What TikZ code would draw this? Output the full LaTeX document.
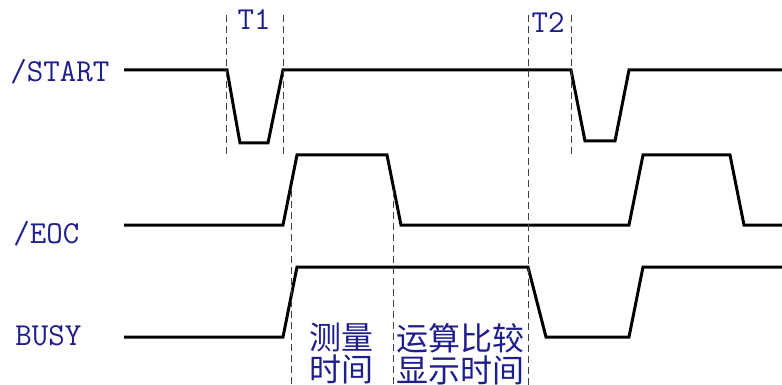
\documentclass[tikz,border=0pt]{standalone}
\usepackage{fontspec}
\usepackage{xcolor}
\newfontfamily\cjk{Noto Sans CJK SC}
\definecolor{labelblue}{RGB}{30,30,140}
\usetikzlibrary{positioning}

\begin{document}
\begin{tikzpicture}[x=0.5pt,y=-0.5pt,
    signal/.style={line width=1.5pt},
    guide/.style={black!75,line width=0.5pt,dash pattern=on 3.5pt off 2pt},
    sig/.style={text=labelblue,font=\fontsize{16}{18}\selectfont\ttfamily,inner sep=0pt,anchor=west},
    note/.style={text=labelblue,font=\fontsize{16}{16}\selectfont\cjk,inner sep=0pt,anchor=north west,align=left}]
    \useasboundingbox (0,0) rectangle (782,385);
    % Labels
    \node[sig] (start) at (10,72) {/START};
    \node[sig] (eoc) at (13,234) {/EOC};
    \node[sig] (busy) at (15,336) {BUSY};
    \node[sig,anchor=center] (tone) at (254,20) {T1};
    \node[sig,anchor=center] (ttwo) at (548,23) {T2};
    \node[note] (meas) at (309,323) {测量\\时间};
    \node[note] (calc) at (396,323) {运算比较\\显示时间};

    % Waveforms
    \draw[signal] (124,70) -- (227,70) -- (240,143) -- (268,143) -- (283,70) -- (571,70)
        -- (585,141) -- (615,141) -- (629,70) -- (782,70);
    \draw[signal] (124,225) -- (283,225) -- (297,155) -- (387,155) -- (401,225) -- (629,225)
        -- (643,155) -- (730,155) -- (744,225) -- (782,225);
    \draw[signal] (124,337) -- (283,337) -- (297,267) -- (528,267) -- (546,337) -- (629,337)
        -- (643,267) -- (782,267);

    % Time marks
    \draw[guide] (226,15) -- (226,155);
    \draw[guide] (283,15) -- (283,155);
    \draw[guide] (571,15) -- (571,155);
    \draw[guide] (528,15) -- (528,385);
    \draw[guide] (291,190) -- (291,385);
    \draw[guide] (393,190) -- (393,385);
\end{tikzpicture}
\end{document}
